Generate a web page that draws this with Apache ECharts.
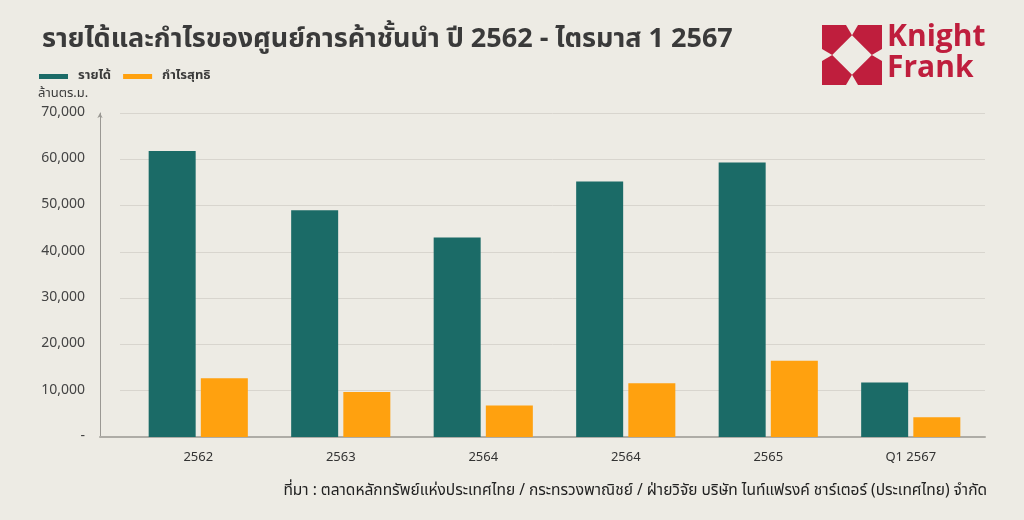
<!DOCTYPE html>
<html>
<head>
<meta charset="utf-8">
<script src="https://cdn.jsdelivr.net/npm/echarts@6/dist/echarts.min.js"></script>
<style>
html,body{margin:0;padding:0;background:#edebe4;}
#chart{width:1024px;height:520px;}
</style>
</head>
<body>
<div id="chart"></div>
<script>
const categories = ['2562', '2563', '2564', '2564', '2565', 'Q1 2567'];
const revenue = [61800, 49000, 43100, 55200, 59300, 11800];
const netProfit = [12700, 9700, 6800, 11600, 16500, 4250];
const yTicks = { min: 0, max: 70000, interval: 10000 };
const seriesNames = ['รายได้', 'กำไรสุทธิ'];

const FONT = '"Noto Sans Thai", "Noto Sans", "DejaVu Sans", sans-serif';
const RED = '#bf1e3d';
const chart = echarts.init(document.getElementById('chart'));

const L = 822, T = 25, S = 60;
function p(x, y) { return [L + x * S, T + y * S]; }

chart.setOption({
  backgroundColor: '#edebe4',
  animation: false,
  textStyle: { fontFamily: FONT },
  title: {
    text: 'รายได้และกำไรของศูนย์การค้าชั้นนำ ปี 2562 - ไตรมาส 1 2567',
    left: 37, top: 23,
    textStyle: { fontFamily: FONT, fontSize: 27, fontWeight: 'bold', color: '#3a3a3a' }
  },
  legend: {
    left: 34, top: 65,
    icon: 'rect', itemWidth: 29, itemHeight: 5, itemGap: 12,
    textStyle: { fontFamily: FONT, fontSize: 13, fontWeight: 'bold', color: '#3a3a3a', padding: [0, 0, 0, 5] },
    data: seriesNames
  },
  grid: [
    { left: 127, right: 42, top: 113, bottom: 83 },
    { left: 120, right: 39, top: 113, bottom: 83 },
    { left: 100, right: 39, top: 113, bottom: 83 }
  ],
  xAxis: [
    { type: 'category', gridIndex: 0, data: categories,
      axisLine: { show: false }, axisTick: { show: false },
      axisLabel: { margin: 15, fontFamily: FONT, fontSize: 13, color: '#333' } },
    { type: 'value', gridIndex: 1, min: 0, max: 1, show: false },
    { type: 'value', gridIndex: 2, min: 0, max: 1,
      axisLine: { show: true, lineStyle: { color: '#aeaca6', width: 2 } },
      axisTick: { show: false }, axisLabel: { show: false }, splitLine: { show: false } }
  ],
  yAxis: [
    { type: 'value', gridIndex: 0, min: yTicks.min, max: yTicks.max, interval: yTicks.interval, show: false },
    { type: 'value', gridIndex: 1, min: yTicks.min, max: yTicks.max, interval: yTicks.interval,
      axisLine: { show: false }, axisTick: { show: false }, axisLabel: { show: false },
      splitLine: { show: true, lineStyle: { color: '#d8d5ce', width: 1 } } },
    { type: 'value', gridIndex: 2, min: yTicks.min, max: yTicks.max, interval: yTicks.interval,
      axisLine: { show: true, symbol: ['none', 'arrow'], symbolSize: [4, 5], lineStyle: { color: '#9a9893', width: 1 } },
      axisTick: { show: false }, splitLine: { show: false },
      axisLabel: { margin: 15, fontFamily: FONT, fontSize: 14, color: '#444',
        formatter: v => v === 0 ? '-' : v.toLocaleString('en-US') } }
  ],
  series: [
    { name: seriesNames[0], type: 'bar', xAxisIndex: 0, yAxisIndex: 0, data: revenue,
      barWidth: 47, barGap: '11%', itemStyle: { color: '#1b6b67' } },
    { name: seriesNames[1], type: 'bar', xAxisIndex: 0, yAxisIndex: 0, data: netProfit,
      barWidth: 47, barGap: '11%', itemStyle: { color: '#ffa10f' } }
  ],
  graphic: [
    { type: 'text', left: 38, top: 88,
      style: { text: 'ล้านตร.ม.', font: '13px ' + FONT, fill: '#3a3a3a' } },
    { type: 'text', right: 37, top: 484,
      style: { text: 'ที่มา : ตลาดหลักทรัพย์แห่งประเทศไทย / กระทรวงพาณิชย์ / ฝ่ายวิจัย บริษัท ไนท์แฟรงค์ ชาร์เตอร์ (ประเทศไทย) จำกัด',
        font: '15.5px ' + FONT, fill: '#222' } },
    { type: 'rect', shape: { x: L, y: T, width: S, height: S }, style: { fill: RED } },
    { type: 'polygon', shape: { points: [p(0.5, 0.17), p(0.83, 0.5), p(0.5, 0.83), p(0.17, 0.5)] }, style: { fill: '#edebe4' } },
    { type: 'polygon', shape: { points: [p(0.4, 0), p(0.6, 0), p(0.5, 0.17)] }, style: { fill: '#edebe4' } },
    { type: 'polygon', shape: { points: [p(0.4, 1), p(0.6, 1), p(0.5, 0.83)] }, style: { fill: '#edebe4' } },
    { type: 'polygon', shape: { points: [p(0, 0.4), p(0, 0.6), p(0.17, 0.5)] }, style: { fill: '#edebe4' } },
    { type: 'polygon', shape: { points: [p(1, 0.4), p(1, 0.6), p(0.83, 0.5)] }, style: { fill: '#edebe4' } },
    { type: 'text', left: 887, top: 22,
      style: { text: 'Knight', font: 'bold 30px "Open Sans", sans-serif', fill: RED } },
    { type: 'text', left: 887, top: 53,
      style: { text: 'Frank', font: 'bold 30px "Open Sans", sans-serif', fill: RED } }
  ]
});
</script>
</body>
</html>
